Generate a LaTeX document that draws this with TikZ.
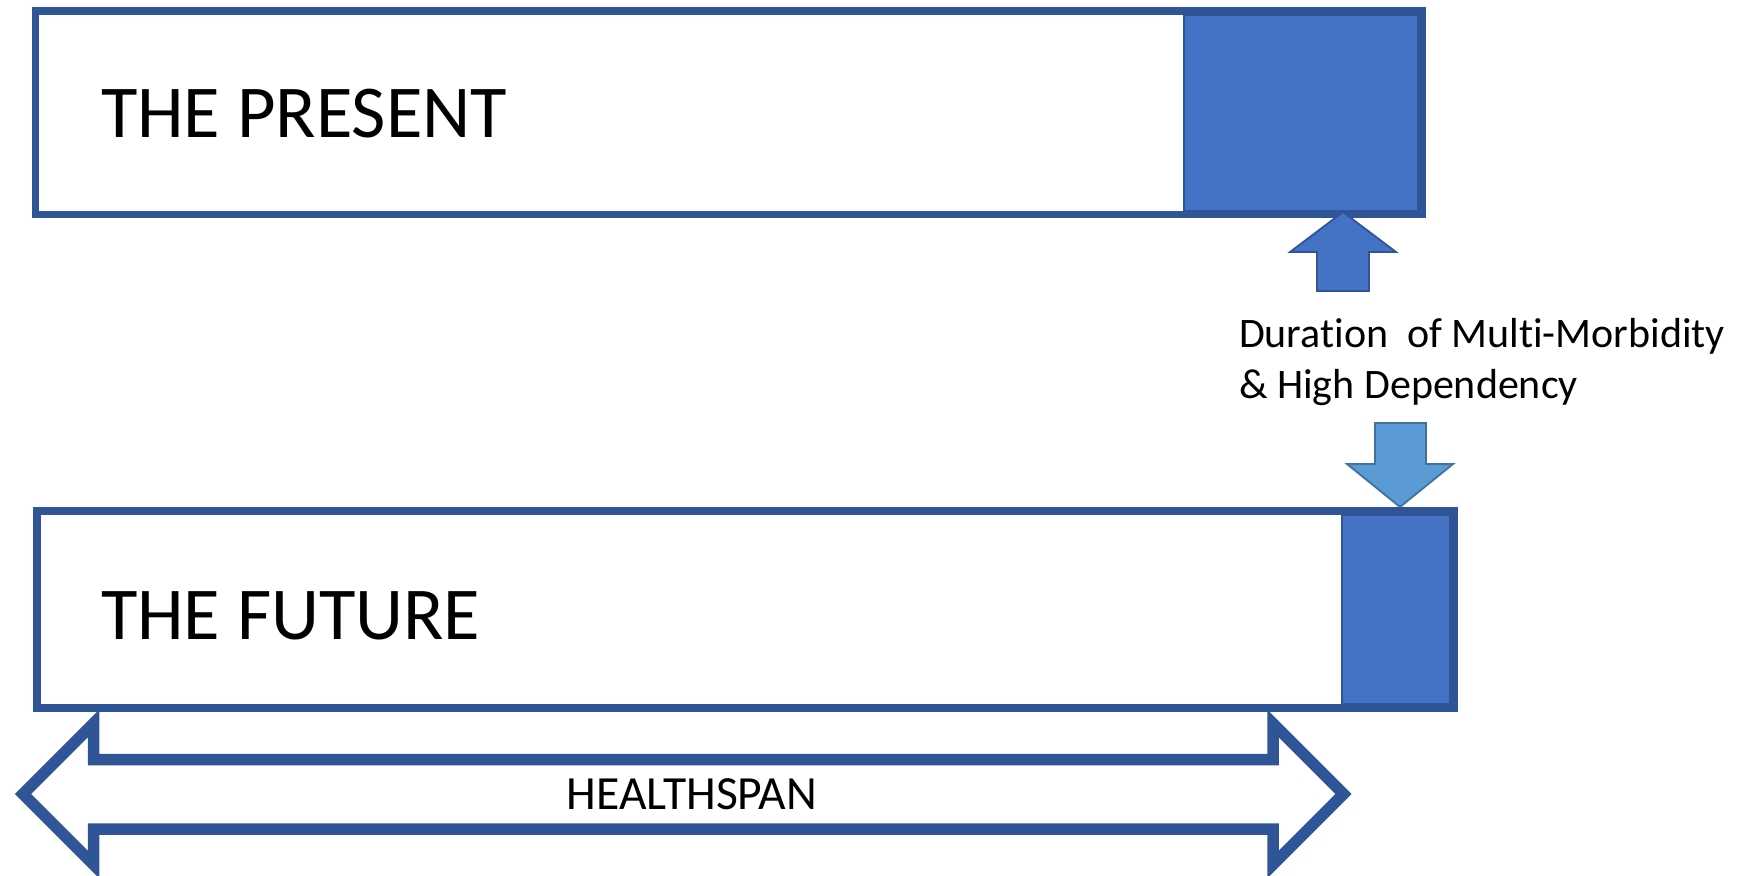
\documentclass[tikz,border=0pt]{standalone}
\usepackage{fontspec}
\setmainfont{Carlito}[Ligatures=NoCommon]
\usetikzlibrary{fit}
\definecolor{outlineblue}{HTML}{2F5597}
\definecolor{segblue}{HTML}{4472C4}
\definecolor{lightblue}{HTML}{5B9BD5}
\definecolor{lightedge}{HTML}{41719C}
\begin{document}
\begin{tikzpicture}[x=0.5pt,y=-0.5pt,
  stage/.style={draw=outlineblue, line width=3.8pt, fill=white, inner sep=0pt, outer sep=0pt},
  illness/.style={draw=outlineblue, line width=0.9pt, fill=segblue, inner sep=0pt, outer sep=0pt},
  uparrow/.style={draw=outlineblue, fill=segblue, line width=0.9pt, line join=miter},
  downarrow/.style={draw=lightedge, fill=lightblue, line width=0.9pt, line join=miter},
  spanarrow/.style={draw=outlineblue, line width=5.75pt, fill=white, line join=miter, miter limit=10},
  bigtext/.style={font=\fontsize{37.3pt}{44pt}\selectfont, inner sep=0pt, outer sep=0pt, anchor=base west},
  smalltext/.style={font=\fontsize{21pt}{25pt}\selectfont, inner sep=0pt, outer sep=0pt, anchor=base west},
  spantext/.style={font=\fontsize{23.8pt}{28pt}\selectfont, inner sep=0pt, outer sep=0pt, anchor=base}]
\useasboundingbox (0,0) rectangle (1747,875);

% present life course: healthy years and the ill-health block
\node[stage, fit={(35.5,11) (1422,214.5)}] (present) {};
\node[illness, fit={(1184,14.8) (1418.2,210.7)}] (presentill) {};
\node[bigtext] (presentlabel) at (101,137) {THE PRESENT};

% future life course
\node[stage, fit={(36.8,511) (1454,708)}] (future) {};
\node[illness, fit={(1342,514.8) (1450.2,704.2)}] (futureill) {};
\node[bigtext] (futurelabel) at (101,639) {THE FUTURE};

% caption between the two stages
\node[smalltext] (dur1) at (1239,347) {Duration\ \ of Multi-Morbidity};
\node[smalltext] (dur2) at (1239,398) {\& High Dependency};

% block arrow pointing up at the present ill-health block
\draw[uparrow] (1343,212) -- (1396,252) -- (1369,252) -- (1369,291)
  -- (1317,291) -- (1317,252) -- (1290,252) -- cycle;

% block arrow pointing down at the future ill-health block
\draw[downarrow] (1375,423) -- (1426,423) -- (1426,464) -- (1453,464)
  -- (1400,507) -- (1347,464) -- (1375,464) -- cycle;

% double-headed healthspan arrow
\draw[spanarrow] (23,794) -- (93.5,723.5) -- (93.5,759.5) -- (1273,759.5)
  -- (1273,723.5) -- (1343.5,794) -- (1273,864.5) -- (1273,829)
  -- (93.5,829) -- (93.5,864.5) -- cycle;
\node[spantext] (span) at (692,809) {HEALTHSPAN};
\end{tikzpicture}
\end{document}
